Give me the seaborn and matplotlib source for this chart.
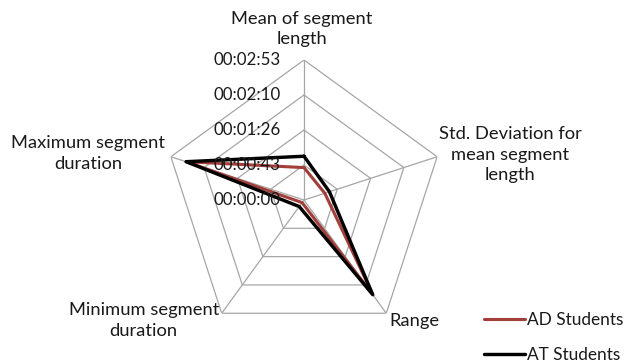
import numpy as np
import pandas as pd
import matplotlib
matplotlib.use("Agg")
import matplotlib.pyplot as plt
from matplotlib.lines import Line2D
import seaborn as sns

# Segment statistics, in seconds
categories = [
    "Mean of segment\nlength",
    "Std. Deviation for\nmean segment\nlength",
    "Range",
    "Minimum segment\nduration",
    "Maximum segment\nduration",
]
ad_students = [40, 27, 145, 4, 153]
at_students = [54, 33, 144, 10, 153]
series_names = ["AD Students", "AT Students"]
series_colors = ["#A33F3B", "#000000"]

# Radial scale: 0.0005 day steps (43.2 s), as hh:mm:ss
tick_values = [0, 43.2, 86.4, 129.6, 172.8]


def hms(sec):
    s = int(round(sec))
    return f"{s // 3600:02d}:{(s % 3600) // 60:02d}:{s % 60:02d}"


sns.set_theme(style="white")
plt.rcParams["font.family"] = ["Lato", "DejaVu Sans"]
FS_LAB = 13.2
FS_TICK = 12.2
FS_LEG = 12.4
TXT = "#1a1a1a"

n = len(categories)
theta = np.arange(n) * 2 * np.pi / n

rows = []
for name, vals in zip(series_names, [ad_students, at_students]):
    for t, v in zip(list(theta) + [2 * np.pi], list(vals) + [vals[0]]):
        rows.append({"theta": t, "seconds": v, "group": name})
df = pd.DataFrame(rows)

fig = plt.figure(figsize=(6.24, 3.62), dpi=100)
W, H = 624, 362
cx, cy, R = 304, 200, 140
ax = fig.add_axes([(cx - R) / W, (H - cy - R) / H, 2 * R / W, 2 * R / H],
                  projection="polar")
ax.set_theta_zero_location("N")
ax.set_theta_direction(-1)
ax.set_ylim(0, tick_values[-1])
ax.grid(False)
ax.spines["polar"].set_visible(False)
ax.set_xticks([])
ax.set_yticks([])
ax.patch.set_alpha(0)

# Pentagonal grid and spokes
grid_c = "#A6A6A6"
closed = np.append(theta, theta[0])
for lv in tick_values[1:]:
    ax.plot(closed, [lv] * (n + 1), color=grid_c, lw=0.9, zorder=1)
for t in theta:
    ax.plot([t, t], [0, tick_values[-1]], color=grid_c, lw=0.9, zorder=1)

# Series lines
widths = {"AD Students": 3.1, "AT Students": 3.4}
for name, col in zip(series_names, series_colors):
    sns.lineplot(data=df[df["group"] == name], x="theta", y="seconds",
                 sort=False, estimator=None, color=col, lw=widths[name] * 0.72,
                 legend=False, ax=ax, zorder=3)
ax.set_xlabel("")
ax.set_ylabel("")

# Radial tick labels along the first spoke
for lv in tick_values:
    ax.annotate(hms(lv), xy=(0, lv), xytext=(-91, 0), textcoords="offset pixels",
                ha="left", va="center", fontsize=FS_TICK, color=TXT, zorder=4)

# Category labels around the outer ring
label_pos = [
    ((-2, 31), "center"),
    ((73, 2), "center"),
    ((3, -8), "left"),
    ((-78, -7), "center"),
    ((-83, 3), "center"),
]
for t, lab, (off, ha) in zip(theta, categories, label_pos):
    ax.annotate(lab, xy=(t, tick_values[-1]), xytext=off, textcoords="offset pixels",
                ha=ha, va="center", multialignment="center", fontsize=FS_LAB,
                color=TXT, linespacing=1.35, annotation_clip=False)

handles = [Line2D([], [], color=c, lw=widths[nm] * 0.72)
           for nm, c in zip(series_names, series_colors)]
fig.legend(handles, series_names, loc="upper left",
           bbox_to_anchor=(484 / W, 1 - 312 / H), frameon=False,
           fontsize=FS_LEG, handlelength=41 / (FS_LEG / 0.72), handletextpad=0.12,
           labelspacing=1.12, borderpad=0, borderaxespad=0, labelcolor=TXT)

fig.savefig("out.png", dpi=100)
